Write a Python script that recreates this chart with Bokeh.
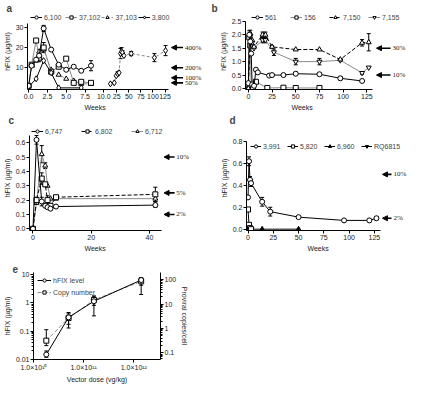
from bokeh.plotting import figure
from bokeh.models import (Range1d, LogAxis, LogScale, FixedTicker, CustomJSTickFormatter,
                          Legend, LegendItem, LabelSet, Arrow, NormalHead, TeeHead, Title,
                          Whisker, ColumnDataSource)
from bokeh.layouts import column, row
from bokeh.embed import file_html
from bokeh.resources import INLINE

FONT = "Liberation Sans"
GRAY = "#8a8a8a"

# ---------------- panel a ----------------
a_weeks = [0, 0.4, 1.0, 1.4, 2.0, 3.0, 4.0, 5.0, 6.0, 7.0, 8.3]
a_6100 = [1.0, 11.0, 14.0, 16.0, 29.5, 19.0, 11.5, 9.0, 10.5, 8.5, 11.0]
a_6100_err = [0, 0, 0, 3.0, 1.5, 0, 0, 0, 0, 0, 2.5]
a_37102 = [1.0, 11.5, 23.5, 15.0, 20.0, 8.0, 10.5, 14.5, 2.5, 3.0, 2.5]
a_37102_err = [0, 0, 1.0, 0, 2.5, 0, 0, 0, 0, 0, 0]
a_37103 = [1.0, 11.0, 13.5, 18.0, 19.0, 9.0, 6.5, 4.5, 3.5, 2.0, 2.0]
a_37103_err = [0, 0, 0, 0, 1.0, 0, 0, 0, 0, 0, 0]
a_3800_weeks = [0, 1.0, 2.0, 3.0, 4.0, 7.0]
a_3800 = [0.5, 4.5, 13.5, 7.5, 0.0, 0.0]
a_late_weeks = [12, 20, 24, 27, 30, 33, 35, 37, 40, 55, 103, 126]
a_late = [2.0, 2.5, 6.0, 7.0, 7.5, 17.0, 18.0, 17.5, 16.0, 17.0, 15.0, 18.5]
a_late_err = [0, 0, 0, 1.0, 0, 2.5, 2.0, 1.0, 0, 1.0, 2.0, 2.5]
a_left_ticks = [0, 2.5, 5, 7.5, 10]
a_left_labels = ["0.0", "2.5", "5.0", "7.5", "10.0"]
a_late_ticks = [25, 50, 75, 100, 125]
a_late_labels = ["25", "50", "75", "100", "125"]
a_y_ticks = [10, 20, 30]
a_levels = [20, 10, 5, 2.5]
a_level_labels = ["400%", "200%", "100%", "50%"]

# ---------------- panel b ----------------
b_561_weeks = [0, 1, 2, 3, 4, 6, 8, 10, 22, 25, 37, 50, 75, 97, 120]
b_561 = [0.2, 2.0, 1.75, 1.3, 0.15, 0.1, 0.7, 0.6, 0.48, 0.5, 0.5, 0.55, 0.53, 0.38, 0.28]
b_561_err = [0, 0.15, 0, 0, 0, 0, 0.05, 0, 0, 0.05, 0, 0.06, 0, 0.06, 0]
b_156_weeks = [0, 1, 2, 3, 5, 8, 20, 37, 50, 75]
b_156 = [0.0, 1.9, 1.6, 0.1, 0.05, 0.25, 0.02, 0.03, 0.02, 0.02]
b_156_err = [0, 0, 0, 0, 0, 0.05, 0, 0, 0, 0]
b_7150_weeks = [0, 2, 4, 6, 15, 18, 25, 50, 75, 97, 120, 127]
b_7150 = [0.0, 2.05, 1.8, 1.55, 2.0, 2.0, 1.55, 1.45, 1.45, 1.08, 1.7, 1.72]
b_7150_err = [0, 0.12, 0, 0, 0.1, 0.1, 0.05, 0, 0, 0, 0.12, 0.32]
b_7155_weeks = [0, 2, 4, 6, 15, 18, 27, 50, 75, 97, 120, 127]
b_7155 = [0.0, 1.95, 1.7, 1.5, 1.8, 1.8, 1.35, 1.0, 1.0, 1.05, 0.58, 0.78]
b_7155_err = [0, 0, 0, 0, 0.1, 0.1, 0.12, 0.12, 0.12, 0, 0.05, 0]
b_x_ticks = [0, 25, 50, 75, 100, 125]
b_y_ticks = [0, 0.5, 1.0, 1.5, 2.0, 2.5]
b_levels = [1.5, 0.5]
b_level_labels = ["30%", "10%"]

# ---------------- panel c ----------------
c_weeks = [0, 1.2, 3.0, 4.2, 5.0, 6.0, 7.9, 42]
c_6747 = [0.0, 0.62, 0.19, 0.16, 0.15, 0.14, 0.155, 0.165]
c_6747_err = [0, 0.03, 0.03, 0, 0, 0, 0, 0.015]
c_6802 = [0.0, 0.20, 0.35, 0.31, 0.20, 0.16, 0.22, 0.24]
c_6802_err = [0, 0.02, 0.04, 0, 0.03, 0, 0, 0.05]
c_6712 = [0.0, 0.18, 0.52, 0.44, 0.30, 0.21, 0.21, 0.21]
c_6712_err = [0, 0, 0.06, 0.02, 0, 0, 0, 0.02]
c_x_ticks = [0, 20, 40]
c_y_ticks = [0, 0.1, 0.2, 0.3, 0.4, 0.5, 0.6]
c_levels = [0.5, 0.25, 0.1]
c_level_labels = ["10%", "5%", "2%"]

# ---------------- panel d ----------------
d_3991_weeks = [0, 1, 2, 3, 14, 22, 50, 95, 120, 127]
d_3991 = [0.29, 0.62, 0.45, 0.42, 0.25, 0.16, 0.11, 0.08, 0.08, 0.10]
d_3991_err = [0, 0.04, 0.03, 0.03, 0.04, 0.04, 0, 0, 0.01, 0.015]
d_5820_weeks = [0, 1, 2, 3]
d_5820 = [0.18, 0.04, 0.01, 0.0]
d_6960_weeks = [0, 1, 14, 50]
d_6960 = [0.0, 0.0, 0.0, 0.0]
d_rq_weeks = [0, 2, 3]
d_rq = [0.0, 0.0, 0.0]
d_x_ticks = [0, 25, 50, 75, 100, 125]
d_y_ticks = [0, 0.2, 0.4, 0.6, 0.8]
d_levels = [0.5, 0.1]
d_level_labels = ["10%", "2%"]

# ---------------- panel e ----------------
e_dose = [1.8e10, 5.0e10, 1.6e11, 1.4e12]
e_hfix = [0.015, 0.31, 1.15, 6.5]
e_hfix_lo = [0.012, 0.13, 0.35, 2.0]
e_hfix_hi = [0.02, 0.46, 1.65, 7.9]
e_copies = [0.32, 2.7, 15.0, 87.0]
e_copies_lo = [0.2, 1.5, 9.0, 60.0]
e_copies_hi = [0.9, 4.0, 22.0, 120.0]
e_x_ticks = [1e10, 1e11, 1e12]
e_x_labels = ["1.0×10¹⁰", "1.0×10¹¹", "1.0×10¹²"]
e_y_ticks = [0.01, 0.1, 1, 10]
e_y_labels = ["0.01", "0.1", "1", "10"]
e_r_ticks = [0.1, 1, 10, 100]
e_r_labels = ["0.1", "1", "10", "100"]

NEAREST_LIN = """
let best = 0, d = Infinity;
for (let i = 0; i < tpos.length; i++) { const e = Math.abs(tpos[i] - tick); if (e < d) { d = e; best = i; } }
return tlabs[best];
"""
NEAREST_LOG = """
let best = 0, d = Infinity;
for (let i = 0; i < tpos.length; i++) { const e = Math.abs(Math.log(tpos[i]) - Math.log(tick)); if (e < d) { d = e; best = i; } }
return tlabs[best];
"""


def make_fig(width, height, xr, yr, mbl, mbr, mbt, mbb, **kw):
    p = figure(width=width, height=height, x_range=xr, y_range=yr, output_backend="svg",
               toolbar_location=None, min_border_left=mbl, min_border_right=mbr,
               min_border_top=mbt, min_border_bottom=mbb, **kw)
    p.outline_line_color = None
    p.xgrid.visible = False
    p.ygrid.visible = False
    return p


def style_axis(ax, minor=False):
    ax.major_label_text_font = FONT
    ax.major_label_text_font_size = "7px"
    ax.major_label_text_color = "#222222"
    ax.axis_label_text_font = FONT
    ax.axis_label_text_font_size = "7px"
    ax.axis_label_text_font_style = "normal"
    ax.axis_label_text_color = "#222222"
    ax.major_tick_out = 3
    ax.major_tick_in = 0
    ax.minor_tick_in = 0
    ax.minor_tick_out = 2 if minor else 0
    ax.major_label_standoff = 1
    ax.axis_label_standoff = 2
    ax.axis_line_color = "black"
    ax.major_tick_line_color = "black"
    ax.minor_tick_line_color = "black"


def draw(p, xs, ys, errs, marker, lcolor, dash, fill="white", mcolor="black", size=5,
         xr="default", yr="default", lo=None, hi=None):
    src = ColumnDataSource(dict(x=xs, y=ys))
    rl = p.line("x", "y", source=src, line_color=lcolor, line_dash=dash, line_width=1,
                x_range_name=xr, y_range_name=yr)
    if errs is not None or lo is not None:
        if lo is None:
            ex = [x for x, e in zip(xs, errs) if e > 0]
            elo = [y - e for y, e, in zip(ys, errs) if e > 0]
            ehi = [y + e for y, e, in zip(ys, errs) if e > 0]
        else:
            ex, elo, ehi = xs, lo, hi
        wsrc = ColumnDataSource(dict(x=ex, lo=elo, hi=ehi))
        w = Whisker(source=wsrc, base="x", lower="lo", upper="hi", dimension="height",
                    line_color="black", line_width=1,
                    upper_head=TeeHead(size=4, line_color="black", line_width=1),
                    lower_head=TeeHead(size=4, line_color="black", line_width=1),
                    x_range_name=xr, y_range_name=yr)
        p.add_layout(w)
    rs = p.scatter("x", "y", source=src, marker=marker, size=size, fill_color=fill,
                   line_color=mcolor, line_width=1, x_range_name=xr, y_range_name=yr)
    return [rl, rs]


def make_legend(items, orientation, spacing, location, glyph_w=12, margin=0):
    return Legend(items=items, orientation=orientation, spacing=spacing, padding=0, margin=margin,
                  location=location, label_text_font=FONT, label_text_font_size="7px",
                  label_height=8, glyph_height=8, glyph_width=glyph_w, label_standoff=2,
                  border_line_color=None, background_fill_alpha=0)


def add_arrows(p, levels, texts, xs, xe, xt, xr="default"):
    n = len(levels)
    src = ColumnDataSource(dict(xs=[xs] * n, xe=[xe] * n, xt=[xt] * n, y=levels, t=texts))
    p.add_layout(Arrow(source=src, x_start="xs", y_start="y", x_end="xe", y_end="y",
                       line_width=1.6, line_color="black",
                       end=NormalHead(size=5, fill_color="black", line_color="black"),
                       x_range_name=xr))
    p.add_layout(LabelSet(source=src, x="xt", y="y", text="t", text_baseline="middle",
                          text_font=FONT, text_font_size="7px", text_color="#222222",
                          x_range_name=xr))


def letter(p, t, offset):
    p.add_layout(Title(text=t, align="left", offset=offset, standoff=0, text_font=FONT,
                       text_font_style="bold", text_font_size="10px"), "above")


def weeks_title(p, offset):
    p.xaxis.axis_label = None
    p.add_layout(Title(text="Weeks", align="left", offset=offset, standoff=0, text_font=FONT,
                       text_font_style="normal", text_font_size="7px", text_color="#222222"), "below")


# ================= panel a =================
A_PXU = 7.73            # px per main unit (frame 181 px)
A_START = -0.15
A_END = A_START + 181 / A_PXU
A_BREAK, A_VIS_END = 10.75, 18.6
A_LATE_FROM, A_LATE_TO = 10, 132
k = (A_VIS_END - A_BREAK) / (A_LATE_TO - A_LATE_FROM)
p_a = make_fig(203, 112, Range1d(A_START, A_END), Range1d(-0.8, 36.9), 22, 0, 12, 23)
p_a.extra_x_ranges = {"late": Range1d(A_LATE_FROM + (A_START - A_BREAK) / k,
                                      A_LATE_FROM + (A_END - A_BREAK) / k)}
a_tick_pos = a_left_ticks + [A_BREAK + (t - A_LATE_FROM) * k for t in a_late_ticks]
p_a.xaxis.ticker = FixedTicker(ticks=a_tick_pos)
p_a.xaxis.formatter = CustomJSTickFormatter(args=dict(tpos=a_tick_pos, tlabs=a_left_labels + a_late_labels),
                                            code=NEAREST_LIN)
p_a.xaxis.bounds = (A_START, A_VIS_END)
p_a.yaxis.ticker = FixedTicker(ticks=a_y_ticks)
p_a.yaxis.bounds = (-0.8, 32)
p_a.yaxis.axis_label = "hFIX (µg/ml)"
for ax in p_a.axis:
    style_axis(ax)
ra1 = draw(p_a, a_weeks, a_37103, a_37103_err, "triangle", GRAY, "3 2")
ra2 = draw(p_a, a_weeks, a_37102, a_37102_err, "square", GRAY, "solid")
ra3 = draw(p_a, a_3800_weeks, a_3800, None, "diamond", "black", "solid", size=6)
ra4 = draw(p_a, a_weeks, a_6100, a_6100_err, "circle", "black", "solid")
draw(p_a, a_late_weeks, a_late, a_late_err, "diamond", GRAY, "3 2", size=6, xr="late")
p_a.add_layout(make_legend([LegendItem(label="6,100", renderers=ra4), LegendItem(label="37,102", renderers=ra2),
                            LegendItem(label="37,103", renderers=ra1), LegendItem(label="3,800", renderers=ra3)],
                           "horizontal", 1, (3, 68)))
add_arrows(p_a, a_levels, a_level_labels, 162.3, 138.2, 166, xr="late")
letter(p_a, "a", -21)
weeks_title(p_a, 57)

# ================= panel b =================
B_PXU = 0.948
p_b = make_fig(204, 112, Range1d(-3, -3 + 162 / B_PXU), Range1d(-0.037, 2.79), 42, 0, 12, 23)
p_b.xaxis.ticker = FixedTicker(ticks=b_x_ticks)
p_b.xaxis.bounds = (-3, 131)
p_b.yaxis.ticker = FixedTicker(ticks=b_y_ticks)
p_b.yaxis.formatter = CustomJSTickFormatter(code="return tick.toFixed(1);")
p_b.yaxis.bounds = (-0.037, 2.5)
p_b.yaxis.axis_label = "hFIX (µg/ml)"
for ax in p_b.axis:
    style_axis(ax)
rb2 = draw(p_b, b_156_weeks, b_156, b_156_err, "square", GRAY, "solid")
rb4 = draw(p_b, b_7155_weeks, b_7155, b_7155_err, "inverted_triangle", GRAY, "solid")
rb3 = draw(p_b, b_7150_weeks, b_7150, b_7150_err, "triangle", "black", "4 2")
rb1 = draw(p_b, b_561_weeks, b_561, b_561_err, "circle", "black", "solid")
p_b.add_layout(make_legend([LegendItem(label="561", renderers=rb1), LegendItem(label="156", renderers=rb2),
                            LegendItem(label="7,150", renderers=rb3), LegendItem(label="7,155", renderers=rb4)],
                           "horizontal", 5, (6, 68), glyph_w=12))
add_arrows(p_b, b_levels, b_level_labels, 150, 135.2, 152)
letter(p_b, "b", -34)
weeks_title(p_b, 46)

# ================= panel c =================
C_PXU = 3.03
p_c = make_fig(203, 140, Range1d(-1.2, -1.2 + 181 / C_PXU), Range1d(-0.012, 0.72), 22, 0, 13, 22)
p_c.xaxis.ticker = FixedTicker(ticks=c_x_ticks)
p_c.xaxis.bounds = (-1.2, 44)
p_c.yaxis.ticker = FixedTicker(ticks=c_y_ticks)
p_c.yaxis.formatter = CustomJSTickFormatter(code="return tick.toFixed(1);")
p_c.yaxis.bounds = (-0.012, 0.65)
p_c.yaxis.axis_label = "hFIX (µg/ml)"
for ax in p_c.axis:
    style_axis(ax)
rc3 = draw(p_c, c_weeks, c_6712, c_6712_err, "triangle", GRAY, "solid")
rc2 = draw(p_c, c_weeks, c_6802, c_6802_err, "square", "black", "4 2")
rc1 = draw(p_c, c_weeks, c_6747, c_6747_err, "circle", "black", "solid")
p_c.add_layout(make_legend([LegendItem(label="6,747", renderers=rc1), LegendItem(label="6,802", renderers=rc2),
                            LegendItem(label="6,712", renderers=rc3)], "horizontal", 16, (2, 95)))
add_arrows(p_c, c_levels, c_level_labels, 48.6, 45, 49.2)
letter(p_c, "c", -21)
weeks_title(p_c, 55)

# ================= panel d =================
D_PXU = 1.011
p_d = make_fig(204, 140, Range1d(-1.5, -1.5 + 161 / D_PXU), Range1d(-0.012, 0.946), 43, 0, 13, 22)
p_d.xaxis.ticker = FixedTicker(ticks=d_x_ticks)
p_d.xaxis.bounds = (-1.5, 131)
p_d.yaxis.ticker = FixedTicker(ticks=d_y_ticks)
p_d.yaxis.formatter = CustomJSTickFormatter(code="return tick.toFixed(1);")
p_d.yaxis.bounds = (-0.012, 0.8)
p_d.yaxis.axis_label = "hFIX (µg/ml)"
for ax in p_d.axis:
    style_axis(ax)
rd4 = draw(p_d, d_rq_weeks, d_rq, None, "inverted_triangle", "black", "solid", fill="black")
rd3 = draw(p_d, d_6960_weeks, d_6960, None, "triangle", "black", "solid", fill="black")
rd2 = draw(p_d, d_5820_weeks, d_5820, None, "square", "black", "solid")
rd1 = draw(p_d, d_3991_weeks, d_3991, d_3991_err, "circle", "black", "solid")
p_d.add_layout(make_legend([LegendItem(label="3,991", renderers=rd1), LegendItem(label="5,820", renderers=rd2),
                            LegendItem(label="6,960", renderers=rd3), LegendItem(label="RQ6815", renderers=rd4)],
                           "horizontal", 4, (4, 80), glyph_w=11))
add_arrows(p_d, d_levels, d_level_labels, 141.9, 133.0, 143.9)
letter(p_d, "d", -17)
weeks_title(p_d, 61)

# ================= panel e =================
p_e = make_fig(203, 133, Range1d(1e10, 3.4e12), Range1d(0.01, 12), 22, 43, 20, 21,
               x_axis_type="log", y_axis_type="log")
p_e.extra_y_ranges = {"copies": Range1d(0.054, 200)}
p_e.extra_y_scales = {"copies": LogScale()}
ax_r = LogAxis(y_range_name="copies")
p_e.add_layout(ax_r, "right")
minor_y = [m * 10.0 ** e for e in range(-2, 1) for m in range(2, 10)]
minor_r = [m * 10.0 ** e for e in range(-2, 2) for m in range(2, 10)]
p_e.xaxis.ticker = FixedTicker(ticks=e_x_ticks)
p_e.xaxis.formatter = CustomJSTickFormatter(args=dict(tpos=e_x_ticks, tlabs=e_x_labels), code=NEAREST_LOG)
p_e.yaxis[0].ticker = FixedTicker(ticks=e_y_ticks, minor_ticks=minor_y)
p_e.yaxis[0].formatter = CustomJSTickFormatter(args=dict(tpos=e_y_ticks, tlabs=e_y_labels), code=NEAREST_LOG)
ax_r.ticker = FixedTicker(ticks=e_r_ticks, minor_ticks=minor_r)
ax_r.formatter = CustomJSTickFormatter(args=dict(tpos=e_r_ticks, tlabs=e_r_labels), code=NEAREST_LOG)
p_e.xaxis.axis_label = "Vector dose (vg/kg)"
p_e.yaxis[0].axis_label = "hFIX (µg/ml)"
ax_r.axis_label = "Proviral copies/cell"
for ax in p_e.axis:
    style_axis(ax, minor=True)
p_e.xaxis.minor_tick_out = 0
re2 = draw(p_e, e_dose, e_copies, None, "square", GRAY, "4 2", yr="copies", lo=e_copies_lo, hi=e_copies_hi)
re1 = draw(p_e, e_dose, e_hfix, None, "circle", "black", "solid", lo=e_hfix_lo, hi=e_hfix_hi)
p_e.add_layout(make_legend([LegendItem(label="hFIX level", renderers=re1),
                            LegendItem(label="Copy number", renderers=re2)], "vertical", 4, "top_left",
                           glyph_w=14, margin=4))
letter(p_e, "e", -21)

layout = column(row(p_a, p_b), row(p_c, p_d), row(p_e))
open("out.html", "w").write(file_html(layout, INLINE))
